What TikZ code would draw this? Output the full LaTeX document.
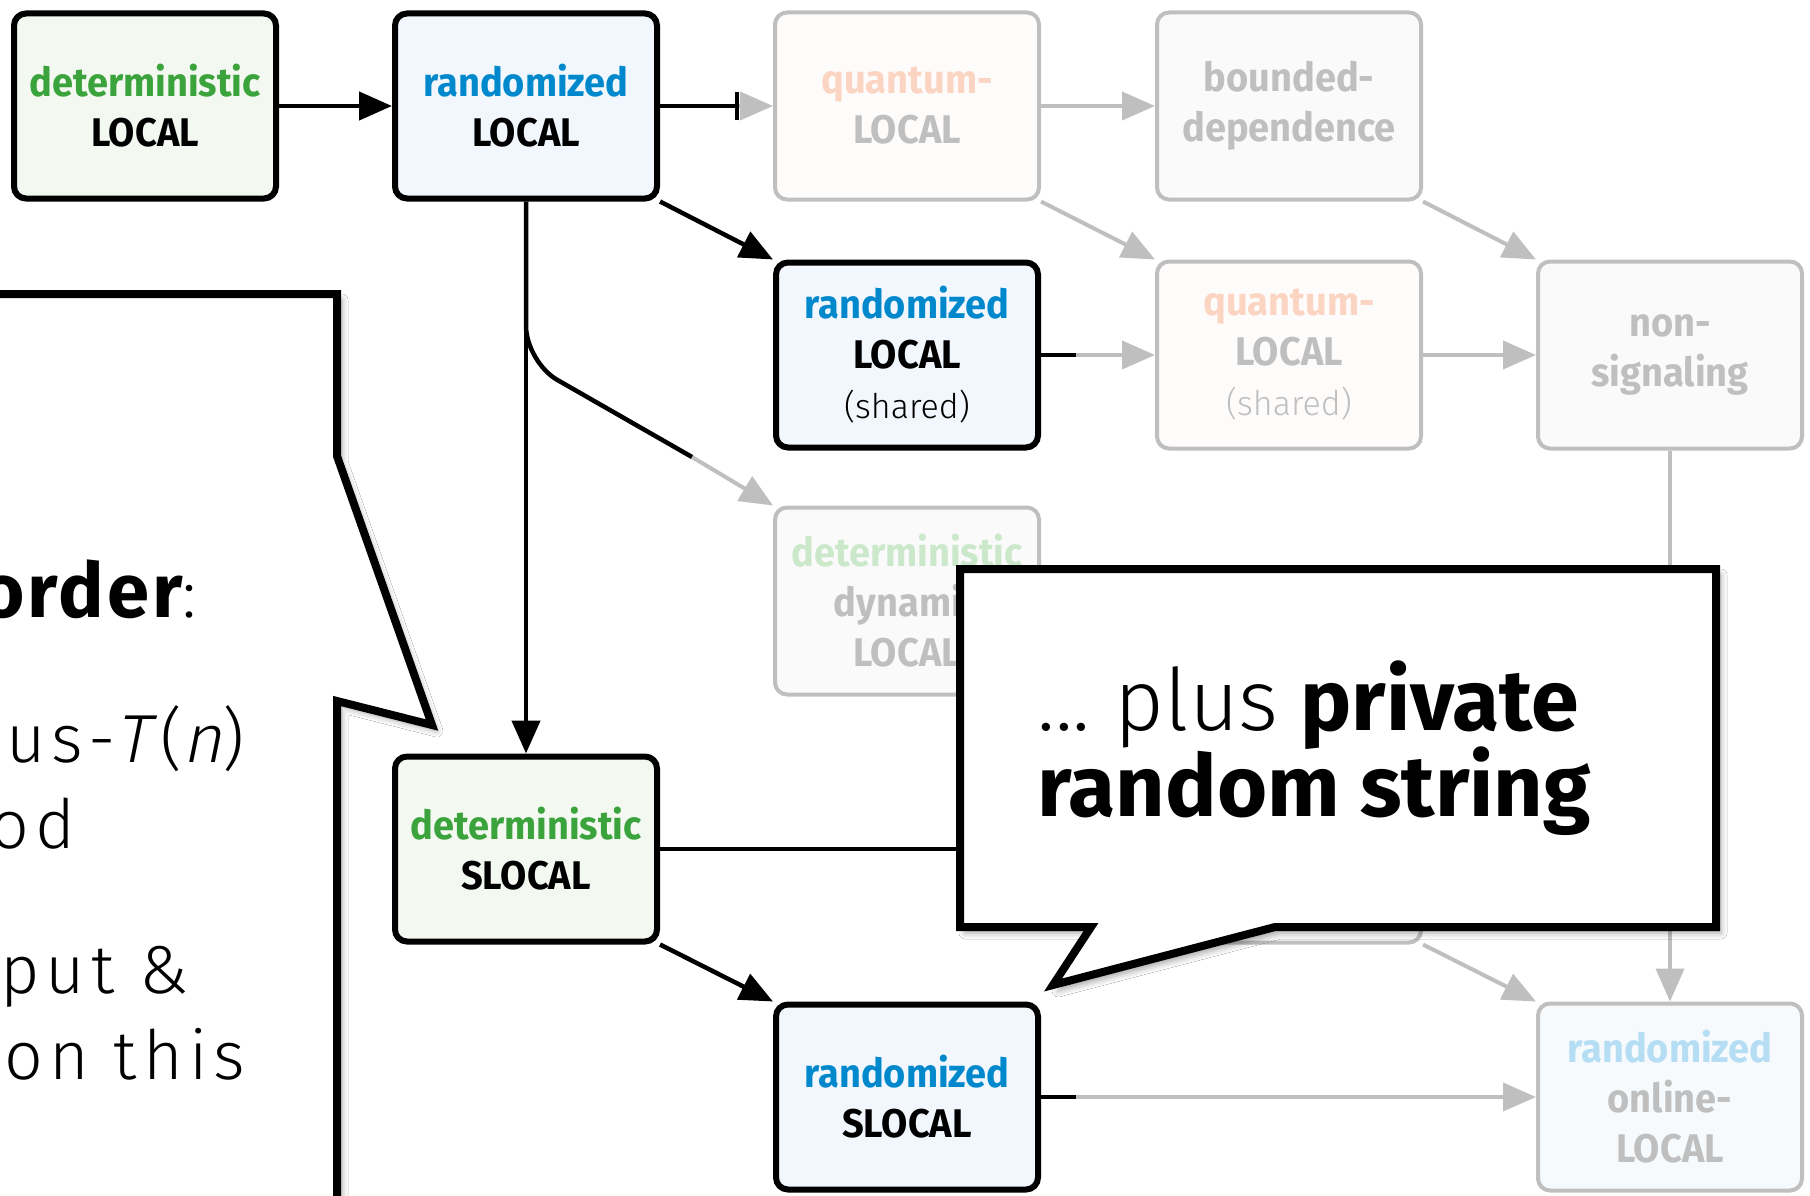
\documentclass[tikz,border=0pt]{standalone}
\usepackage{fontspec}
\usetikzlibrary{arrows.meta,shadows.blur,calc}

\setmainfont{Fira Sans}[FakeStretch=0.95]
\IfFontExistsTF{Fira Sans Light}
  {\newfontfamily\lite{Fira Sans Light}
   \newfontfamily\wide{Fira Sans Light}[LetterSpace=9,ItalicFont={Fira Sans Light},ItalicFeatures={FakeSlant=0.2}]}
  {\newfontfamily\lite{Fira Sans}
   \newfontfamily\wide{Fira Sans}[LetterSpace=9]}
\IfFontExistsTF{Fira Sans Heavy}
  {\newfontfamily\heavy{Fira Sans Heavy}
   \newfontfamily\wideheavy{Fira Sans Heavy}[LetterSpace=4]}
  {\newfontfamily\heavy{Fira Sans}[UprightFont={* Bold}]
   \newfontfamily\wideheavy{Fira Sans}[UprightFont={* Bold},LetterSpace=4]}

\definecolor{dgreen}{HTML}{3BA33B}
\definecolor{rblue}{HTML}{0088CC}
\definecolor{dfill}{HTML}{F3F8F1}
\definecolor{rfill}{HTML}{F1F7FC}
\definecolor{fgray}{HTML}{BFBFBF}
\definecolor{gfill}{HTML}{FAFAFA}
\definecolor{qfill}{HTML}{FEFBFB}
\definecolor{ofill}{HTML}{F6FAFD}
\definecolor{peach}{HTML}{FBD4C2}
\definecolor{lgreen}{HTML}{CBE8CB}
\definecolor{lblue}{HTML}{B5DDF3}

\newcommand\shr{\fontsize{34}{50}\mdseries\lite}

\begin{document}
\begin{tikzpicture}[x=1pt,y=-1pt,
  lbl/.style={align=center, inner sep=0pt, text width=260pt,
    font=\bfseries\fontsize{40}{50}\selectfont},
  bbox/.style={lbl, rounded corners=12pt, draw=black, line width=6pt,
    minimum width=262pt, minimum height=185pt},
  gbox/.style={lbl, rounded corners=12pt, draw=fgray, line width=4pt,
    text=fgray, minimum width=264pt, minimum height=187pt},
  tip/.style={-{Triangle[length=33pt,width=28pt]}},
  blk/.style={draw=black, line width=4.5pt, tip},
  bline/.style={draw=black, line width=4.5pt},
  gry/.style={draw=fgray, line width=4pt, tip},
  callout/.style={fill=white, draw=black, line width=8pt, line join=miter,
    blur shadow={shadow xshift=5pt, shadow yshift=-6pt,
      shadow blur radius=6pt, shadow opacity=35}},
  ltxt/.style={anchor=base west, inner sep=0pt,
    font=\wide\fontsize{68}{80}\selectfont},
  rtxt/.style={anchor=base west, inner sep=0pt,
    font=\fontsize{86}{90}\selectfont}]

\useasboundingbox (0,0) rectangle (1810,1196);
\clip (0,0) rectangle (1810,1196);
\fill[white] (0,0) rectangle (1810,1196);

% models
\node[bbox, fill=dfill] (dl)  at (145,106)  {\textcolor{dgreen}{deterministic}\\LOCAL};
\node[bbox, fill=rfill] (rl)  at (526,106)  {\textcolor{rblue}{randomized}\\LOCAL};
\node[gbox, fill=qfill] (ql)  at (907,106)  {\textcolor{peach}{quantum-}\\LOCAL};
\node[gbox, fill=gfill] (bd)  at (1289,106) {bounded-\\dependence};
\node[bbox, fill=rfill] (rs)  at (907,355)  {\textcolor{rblue}{randomized}\\LOCAL\\\shr (shared)};
\node[gbox, fill=qfill] (qs)  at (1289,355) {\textcolor{peach}{quantum-}\\LOCAL\\\shr (shared)};
\node[gbox, fill=gfill] (ns)  at (1670,355) {non-\\signaling};
\node[gbox, fill=gfill] (dyn) at (907,601)  {\textcolor{lgreen}{deterministic}\\dynamic\\LOCAL};
\node[bbox, fill=dfill] (ds)  at (526,849)  {\textcolor{dgreen}{deterministic}\\SLOCAL};
\node[gbox, fill=gfill] (hid) at (1289,849) {};
\node[bbox, fill=rfill] (rsl) at (907,1097) {\textcolor{rblue}{randomized}\\SLOCAL};
\node[gbox, fill=ofill] (ro)  at (1670,1097) {\textcolor{lblue}{randomized}\\online-\\LOCAL};

% faded connectors
\draw[gry] (rl.east) -- (ql.west);
\draw[gry] (ql.east) -- (bd.west);
\draw[gry] (ql.south east) -- (qs.north west);
\draw[gry] (bd.south east) -- (ns.north west);
\draw[gry] (rs.east) -- (qs.west);
\draw[gry] (qs.east) -- (ns.west);
\draw[gry] (ns.south) -- (ro.north);
\draw[gry] (hid.south east) -- (ro.north west);
\draw[gry] (rsl.east) -- (ro.west);

% branch to the dynamic model, black fading into gray
\coordinate (bend) at (526,362);
\coordinate (fade) at (692,457);
\draw[gry] (fade) -- (dyn.north west);
\draw[bline, rounded corners=36pt] (rl.south) -- (bend) -- (fade);

% solid connectors
\draw[blk] (dl.east) -- (rl.west);
\draw[bline, -{Bar[width=28pt]}] (rl.east) -- ($(ql.west)+(-34,0)$);
\draw[blk] (rl.south east) -- (rs.north west);
\draw[blk] (rl.south) -- (ds.north);
\draw[bline] (rs.east) -- ++(35,0);
\draw[blk] (ds.east) -- (hid.west);
\draw[blk] (ds.south east) -- (rsl.north west);
\draw[bline] (rsl.east) -- ++(35,0);

% left speech bubble
\draw[callout] (-30,294) -- (337,294) -- (337,456) -- (432,725)
  -- (337,701) -- (337,1240) -- (-30,1240) -- cycle;
\node[ltxt] (t1) at (-20,617) {{\wideheavy\fontsize{76}{80}\selectfont order}:};
\node[ltxt] (t2) at (6,762)   {us-{\itshape T\,}({\itshape n})};
\node[ltxt] (t3) at (-10,848) {od};
\node[ltxt] (t4) at (0,993)   {put \&};
\node[ltxt] (t5) at (4,1079)  {on this};

% right speech bubble
\draw[callout] (960,569) -- (1716,569) -- (1716,927) -- (1275,927)
  -- (1053,985) -- (1091,927) -- (960,927) -- cycle;
\node[rtxt] (c1) at (1037,730) {{\lite ...\ plus} {\heavy private}};
\node[rtxt] (c2) at (1037,816) {\heavy random string};

\end{tikzpicture}
\end{document}
